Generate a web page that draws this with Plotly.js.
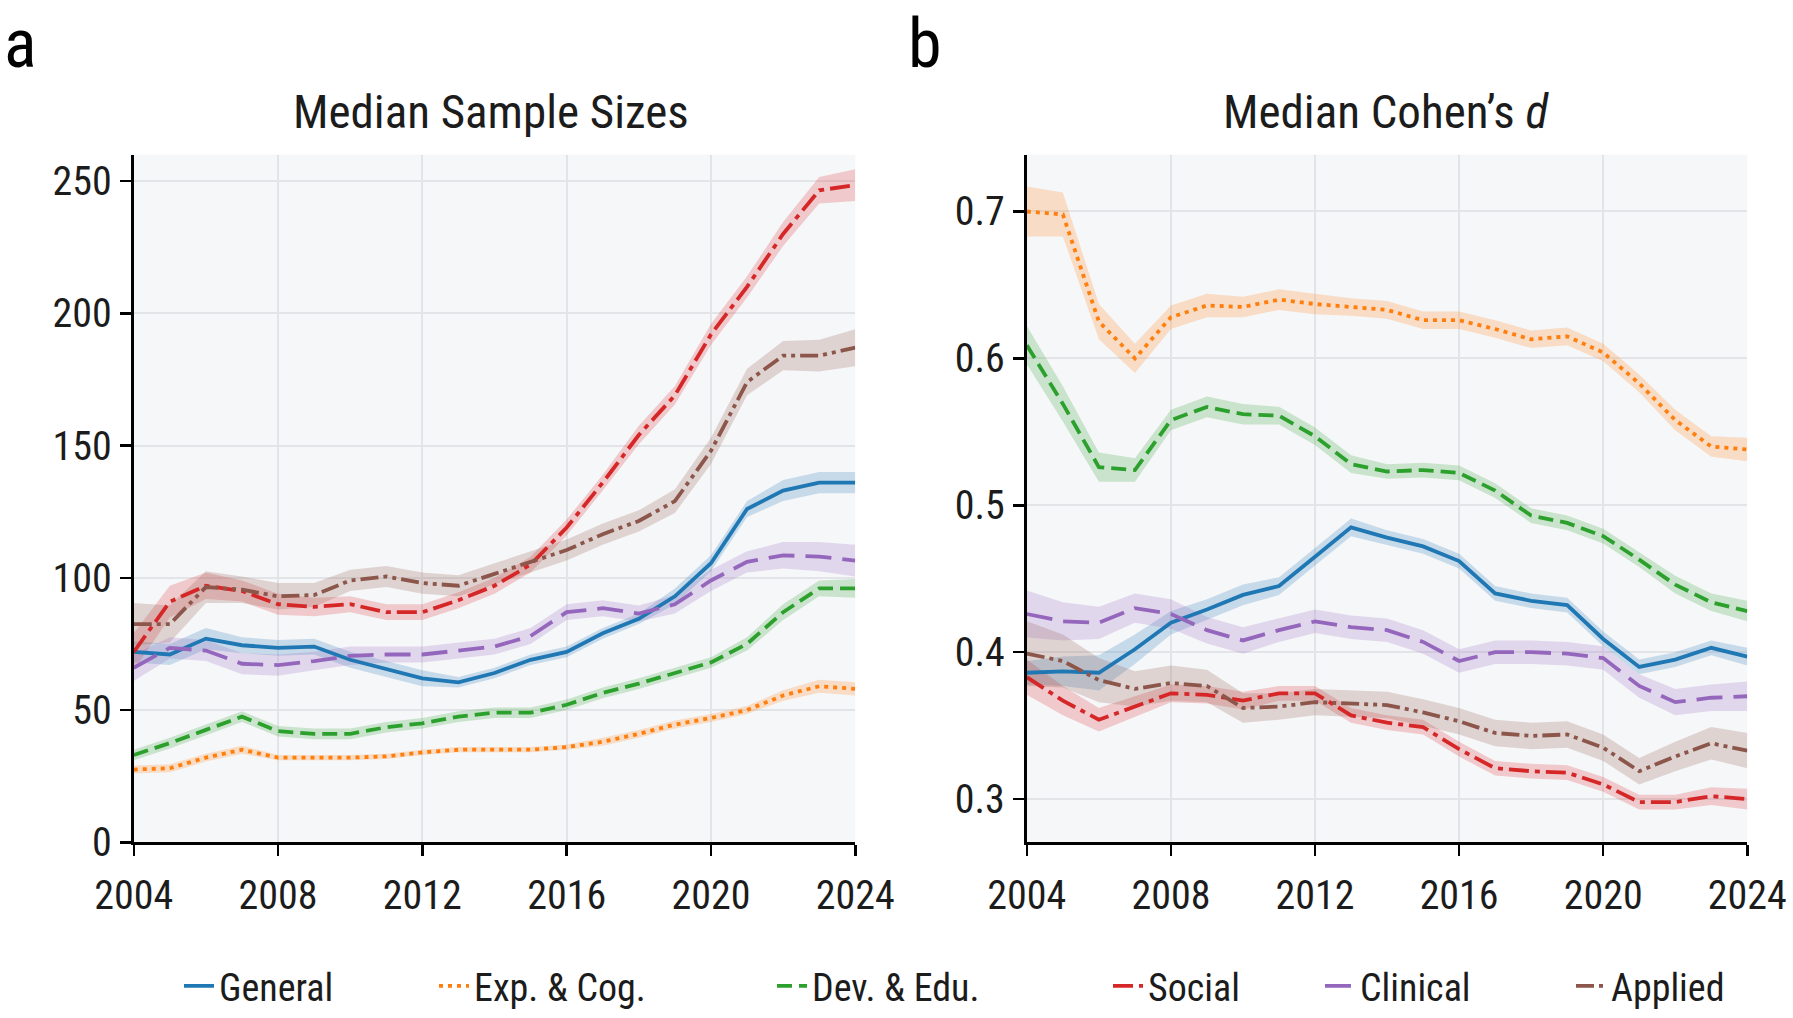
<!DOCTYPE html>
<html>
<head>
<meta charset="utf-8">
<script src="https://cdn.plot.ly/plotly-3.0.1.min.js"></script>
<style>
html,body{margin:0;padding:0;background:#fff;}
#chart{width:1793px;height:1018px;}
</style>
</head>
<body>
<div id="chart"></div>
<script>
const years = [2004,2005,2006,2007,2008,2009,2010,2011,2012,2013,2014,2015,2016,2017,2018,2019,2020,2021,2022,2023,2024];
const seriesNames = ["General","Exp. & Cog.","Dev. & Edu.","Social","Clinical","Applied"];

// Panel a: median sample sizes
const nGeneral  = [72,71,77,74.5,73.5,74,69,65.5,62,60.5,64,69,72,79,84.5,93,105.5,126,133,136,136];
const nExpCog   = [27.5,28,32,35,32,32,32,32.5,34,35,35,35,36,38,41,44.5,47,50,55.5,59,58];
const nDevEdu   = [33,37.5,42.5,47.5,42,41,41,43.5,45,47.5,49,49,52,56.5,60,64,68,75,87,96,96];
const nSocial   = [72,91,97,95,90,89,90,87,87,91.5,97,105,119,136,154,169,192,210,230,246.5,248.5];
const nClinical = [66,73.5,72.5,67.5,67,68.5,70.5,71,71,72.5,74,78,87,88.5,86.5,90,99,106,108.5,108,106.5];
const nApplied  = [82.5,82.5,96.5,95.5,93,93.5,99,100.5,98,97,101.5,106,110.5,116.5,121.5,129,148,174,184,184,187];

const nGeneralCI  = [4,4,4,3,3,3,3,3,3,2,2,2,2,2,2,3,3,3,4,4,4];
const nExpCogCI   = [1.5,1.5,1.5,1.5,1,1,1,1,1,1,1,1,1,1.5,1.5,1.5,1.5,1.5,2,2.5,2.5];
const nDevEduCI   = [2,2,2,2,2,2,2,2,2,2,2,2,2,2,2,2,2,2.5,3,3,3.5];
const nSocialCI   = [7,6,5,4,4,3.5,3,3,3,3,3,3,3,3,3.5,3.5,4,4,4.5,5,6];
const nClinicalCI = [5,4,4,4,4,3.5,3.5,3,3,3,3,3,3,3,3,3.5,4,4,5,5.5,6];
const nAppliedCI  = [8,7,6,5,5,4.5,4,4,4,4,4,4,4,4,4,4.5,5,5,5.5,6,7];

// Panel b: median Cohen's d
const dGeneral  = [0.386,0.387,0.386,0.402,0.420,0.429,0.439,0.445,0.465,0.485,0.478,0.472,0.462,0.440,0.435,0.432,0.409,0.390,0.395,0.403,0.397];
const dExpCog   = [0.700,0.698,0.625,0.600,0.628,0.636,0.635,0.640,0.637,0.635,0.633,0.626,0.626,0.620,0.613,0.615,0.604,0.583,0.558,0.540,0.538];
const dDevEdu   = [0.609,0.569,0.526,0.524,0.558,0.567,0.562,0.561,0.547,0.528,0.523,0.524,0.522,0.510,0.493,0.488,0.479,0.463,0.446,0.434,0.428];
const dSocial   = [0.383,0.367,0.354,0.363,0.372,0.371,0.367,0.372,0.372,0.357,0.352,0.349,0.334,0.321,0.319,0.318,0.310,0.298,0.298,0.302,0.300];
const dClinical = [0.426,0.421,0.420,0.430,0.426,0.415,0.408,0.415,0.421,0.417,0.415,0.407,0.394,0.400,0.400,0.399,0.396,0.377,0.366,0.369,0.370];
const dApplied  = [0.399,0.394,0.381,0.375,0.379,0.377,0.362,0.363,0.366,0.365,0.364,0.359,0.353,0.345,0.343,0.344,0.335,0.319,0.329,0.338,0.333];

const dGeneralCI  = [0.008,0.010,0.012,0.010,0.008,0.007,0.007,0.006,0.006,0.006,0.005,0.005,0.005,0.005,0.005,0.005,0.005,0.005,0.005,0.005,0.006];
const dExpCogCI   = [0.017,0.015,0.012,0.010,0.008,0.008,0.007,0.007,0.007,0.006,0.006,0.006,0.006,0.006,0.006,0.006,0.006,0.006,0.007,0.007,0.008];
const dDevEduCI   = [0.013,0.012,0.010,0.008,0.007,0.007,0.007,0.006,0.006,0.006,0.005,0.005,0.005,0.005,0.005,0.005,0.005,0.005,0.006,0.006,0.007];
const dSocialCI   = [0.012,0.010,0.008,0.007,0.006,0.006,0.006,0.005,0.005,0.005,0.005,0.005,0.005,0.005,0.005,0.005,0.005,0.005,0.005,0.006,0.007];
const dClinicalCI = [0.016,0.013,0.011,0.010,0.010,0.009,0.009,0.008,0.008,0.008,0.008,0.008,0.008,0.008,0.008,0.008,0.008,0.008,0.009,0.009,0.010];
const dAppliedCI  = [0.022,0.018,0.015,0.012,0.012,0.011,0.010,0.009,0.009,0.009,0.009,0.009,0.009,0.009,0.009,0.009,0.009,0.009,0.010,0.011,0.012];

const xTickVals = [2004,2008,2012,2016,2020,2024];
const nTickVals = [0,50,100,150,200,250];
const dTickVals = [0.3,0.4,0.5,0.6,0.7];
const dTickText = ["0.3","0.4","0.5","0.6","0.7"];

const colors = ["#1f77b4","#ff7f0e","#2ca02c","#d62728","#9467bd","#8c564b"];
const bandColors = ["rgba(31,119,180,0.22)","rgba(255,127,14,0.22)","rgba(44,160,44,0.22)","rgba(214,39,40,0.22)","rgba(148,103,189,0.22)","rgba(140,86,75,0.22)"];
const dashes = ["solid","4px,5px","15px,7px","20px,6px,5px,6px","26px,11px","18px,5px,4px,5px,4px,5px"];
const legendIds = ["legend","legend2","legend3","legend4","legend5","legend6"];
const legendX = [179,434,772,1108,1320,1571];

const nSeries = [nGeneral,nExpCog,nDevEdu,nSocial,nClinical,nApplied];
const nCI = [nGeneralCI,nExpCogCI,nDevEduCI,nSocialCI,nClinicalCI,nAppliedCI];
const dSeries = [dGeneral,dExpCog,dDevEdu,dSocial,dClinical,dApplied];
const dCI = [dGeneralCI,dExpCogCI,dDevEduCI,dSocialCI,dClinicalCI,dAppliedCI];

const FONT = '"Roboto Condensed",Roboto,sans-serif';
const TXT = "#1c1c1c";
const LW = 3.8;

const traces = [];
function addPanel(series, ci, xa, ya, legend) {
  series.forEach((vals, i) => {
    const upper = vals.map((v, k) => v + ci[i][k]);
    const lower = vals.map((v, k) => v - ci[i][k]);
    traces.push({
      x: years.concat(years.slice().reverse()),
      y: upper.concat(lower.slice().reverse()),
      xaxis: xa, yaxis: ya, type: "scatter", mode: "lines",
      fill: "toself", fillcolor: bandColors[i], line: {width: 0},
      hoverinfo: "skip", showlegend: false
    });
  });
  series.forEach((vals, i) => {
    traces.push({
      x: years, y: vals, xaxis: xa, yaxis: ya, type: "scatter", mode: "lines",
      name: seriesNames[i], legend: legendIds[i], showlegend: legend,
      line: {color: colors[i], width: LW, dash: dashes[i]}
    });
  });
}
addPanel(nSeries, nCI, "x", "y", true);
addPanel(dSeries, dCI, "x2", "y2", false);

const axisCommon = {
  showline: true, linecolor: "#000", linewidth: 3,
  ticks: "outside", ticklen: 11, tickwidth: 2.5, tickcolor: "#000",
  showgrid: true, gridcolor: "#e3e4e8", gridwidth: 2,
  zeroline: false, automargin: false, ticklabeloverflow: "allow",
  tickfont: {family: FONT, size: 40, color: TXT}
};

const layout = {
  width: 1793, height: 1018,
  margin: {l: 0, r: 0, t: 0, b: 0},
  paper_bgcolor: "#ffffff", plot_bgcolor: "#f6f7f9",
  font: {family: FONT, color: TXT},
  xaxis: Object.assign({}, axisCommon, {domain: [0.0746, 0.4770], range: [2004, 2024], tickvals: xTickVals, anchor: "y", ticklabelstandoff: 5}),
  yaxis: Object.assign({}, axisCommon, {domain: [0.1677, 0.8472], range: [0, 260], tickvals: nTickVals, anchor: "x"}),
  xaxis2: Object.assign({}, axisCommon, {domain: [0.5727, 0.9745], range: [2004, 2024], tickvals: xTickVals, anchor: "y2", ticklabelstandoff: 5}),
  yaxis2: Object.assign({}, axisCommon, {domain: [0.1677, 0.8472], range: [0.2706, 0.7387], tickvals: dTickVals, ticktext: dTickText, anchor: "x2"}),
  showlegend: true,
  annotations: [
    {text: "Median Sample Sizes", xref: "paper", yref: "paper", x: 491/1793, y: 1 - 112/1018, xanchor: "center", yanchor: "middle", showarrow: false, font: {family: FONT, size: 47, color: TXT}},
    {text: "Median Cohen\u2019s <i>d</i>", xref: "paper", yref: "paper", x: 1386/1793, y: 1 - 112/1018, xanchor: "center", yanchor: "middle", showarrow: false, font: {family: FONT, size: 47, color: TXT}},
    {text: "a", xref: "paper", yref: "paper", x: 2/1793, y: 1, yshift: -2, xanchor: "left", yanchor: "top", showarrow: false, font: {family: FONT, size: 68, color: "#000"}},
    {text: "b", xref: "paper", yref: "paper", x: 906/1793, y: 1, yshift: -2, xanchor: "left", yanchor: "top", showarrow: false, font: {family: FONT, size: 68, color: "#000"}}
  ]
};
legendIds.forEach((id, i) => {
  layout[id] = {
    orientation: "h", x: legendX[i]/1793, xanchor: "left", y: 1 - 992/1018, yanchor: "middle",
    font: {family: FONT, size: 38, color: TXT}, itemwidth: 30,
    bgcolor: "rgba(0,0,0,0)"
  };
});

Plotly.newPlot("chart", traces, layout, {staticPlot: true, displayModeBar: false});
</script>
</body>
</html>
